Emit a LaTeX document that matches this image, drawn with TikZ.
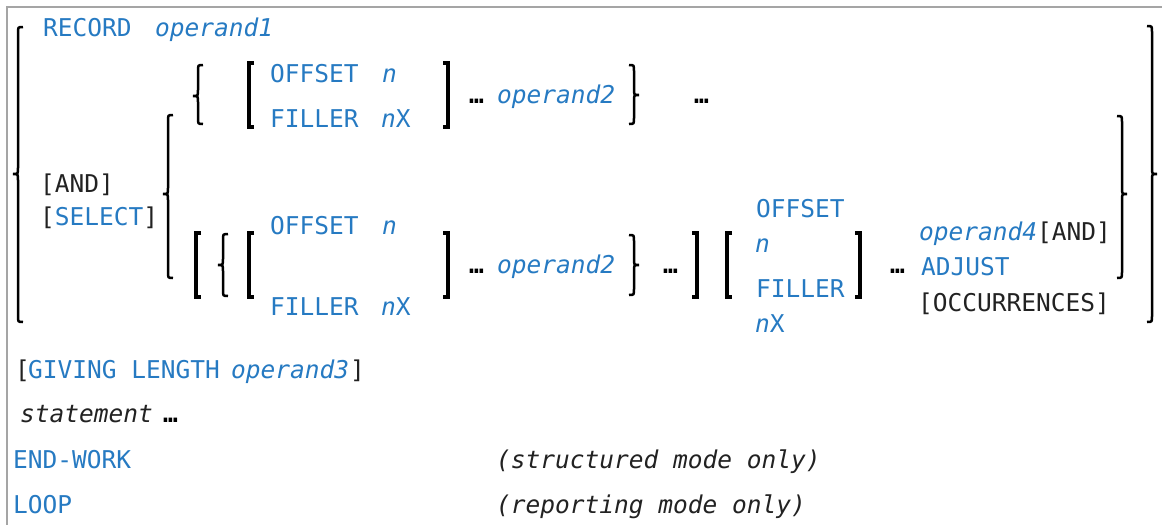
\documentclass[tikz,border=0pt]{standalone}
\usepackage{fontspec}
\setmainfont{DejaVu Sans Mono}
\definecolor{kwblue}{RGB}{38,122,194}
\definecolor{txtblack}{RGB}{34,34,34}
\definecolor{framegray}{RGB}{165,165,165}
\newcommand{\synsize}{\fontsize{24.5}{29}\selectfont}
% brackets and braces: x, top, (mid,) bottom
\newcommand{\lbrk}[3]{\draw[brk] (#1+5,#2) -- (#1,#2) -- (#1,#3) -- (#1+5,#3);}
\newcommand{\rbrk}[3]{\draw[brk] (#1-5,#2) -- (#1,#2) -- (#1,#3) -- (#1-5,#3);}
\newcommand{\lbrc}[4]{\draw[brc] (#1+5,#2) .. controls (#1,#2) .. (#1,#2+6) -- (#1,#3-6)
  .. controls (#1,#3) .. (#1-5,#3) .. controls (#1,#3) .. (#1,#3+6) -- (#1,#4-6)
  .. controls (#1,#4) .. (#1+5,#4);}
\newcommand{\rbrc}[4]{\draw[brc] (#1-5,#2) .. controls (#1,#2) .. (#1,#2+6) -- (#1,#3-6)
  .. controls (#1,#3) .. (#1+5,#3) .. controls (#1,#3) .. (#1,#3+6) -- (#1,#4-6)
  .. controls (#1,#4) .. (#1-5,#4);}

\begin{document}
\begin{tikzpicture}[x=1pt,y=-1pt,
    every node/.style={inner sep=0pt,anchor=base west,font=\synsize},
    kw/.style={text=kwblue},
    arg/.style={text=kwblue,font=\synsize\itshape},
    txt/.style={text=txtblack},
    note/.style={text=txtblack,font=\synsize\itshape},
    dots/.style={text=black,font=\synsize\bfseries},
    brk/.style={line width=3.5pt,black},
    brc/.style={line width=2.5pt,black}]
  \useasboundingbox (0,0) rectangle (1162,525);
  \draw[framegray,line width=2pt] (1162,7) -- (7,7) -- (7,525);

  %% Outer braces
  \lbrc{18}{27}{174}{322}
  \rbrc{1152}{26}{174}{322}

  %% Row 1: RECORD
  \node[kw]  (record) at (43,36)  {RECORD};
  \node[arg] (opone)  at (155,36) {operand1};

  %% [AND] [SELECT]
  \node[txt] (andsel) at (40,192) {[AND]};
  \node[txt] (select) at (40,225) {[\textcolor{kwblue}{SELECT}]};
  \lbrc{168}{115}{194}{278}
  \rbrc{1122}{116}{194}{278}

  %% Upper group: { [ OFFSET n / FILLER nX ] ... operand2 } ...
  \lbrc{198}{65}{96}{124}
  \lbrk{249}{63}{127}
  \node[kw]  (offa)    at (270,82)  {OFFSET};
  \node[arg] (na)      at (382,82)  {n};
  \node[kw]  (fillera) at (270,127) {FILLER};
  \node[kw]  (nxa)     at (381,127) {\textit{n}X};
  \rbrk{448}{63}{127}
  \node[dots] (dotsa)  at (469,103) {…};
  \node[arg] (optwoa)  at (497,103) {operand2};
  \rbrc{634}{65}{95}{124}
  \node[dots] (dotsb)  at (694,103) {…};

  %% Lower group: [ { [ OFFSET n / FILLER nX ] ... operand2 } ... ] [ ... ] ...
  \lbrk{196}{233}{297}
  \lbrc{223}{234}{265}{296}
  \lbrk{249}{233}{297}
  \node[kw]  (offb)    at (270,234) {OFFSET};
  \node[arg] (nb)      at (382,234) {n};
  \node[kw]  (fillerb) at (270,315) {FILLER};
  \node[kw]  (nxb)     at (381,315) {\textit{n}X};
  \rbrk{448}{233}{297}
  \node[dots] (dotsc)  at (469,273) {…};
  \node[arg] (optwob)  at (497,273) {operand2};
  \rbrc{634}{235}{265}{295}
  \node[dots] (dotsd)  at (663,273) {…};
  \rbrk{697}{233}{297}
  \lbrk{727}{233}{297}
  \node[kw]  (offc)    at (756,217) {OFFSET};
  \node[arg] (nc)      at (755,252) {n};
  \node[kw]  (fillerc) at (756,297) {FILLER};
  \node[kw]  (nxc)     at (755,332) {\textit{n}X};
  \rbrk{860}{233}{297}
  \node[dots] (dotse)  at (890,273) {…};
  \node[arg] (opfour)  at (919,240) {operand4};
  \node[txt] (andadj)  at (1037,240) {[AND]};
  \node[kw]  (adjust)  at (921,275) {ADJUST};
  \node[txt] (occur)   at (918,311) {[OCCURRENCES]};

  %% Trailing lines
  \node[txt] (givl)   at (15,378)  {[};
  \node[kw]  (giving) at (28,378)  {GIVING LENGTH};
  \node[arg] (opthr)  at (231,378) {operand3};
  \node[txt] (givr)   at (350,378) {]};
  \node[note] (stmt)  at (20,422)  {statement};
  \node[dots] (dotsf) at (163,422) {…};
  \node[kw]  (endw)   at (13,468)  {END-WORK};
  \node[note] (strm)  at (496,468) {(structured mode only)};
  \node[kw]  (loop)   at (13,513)  {LOOP};
  \node[note] (repm)  at (496,513) {(reporting mode only)};
\end{tikzpicture}
\end{document}
